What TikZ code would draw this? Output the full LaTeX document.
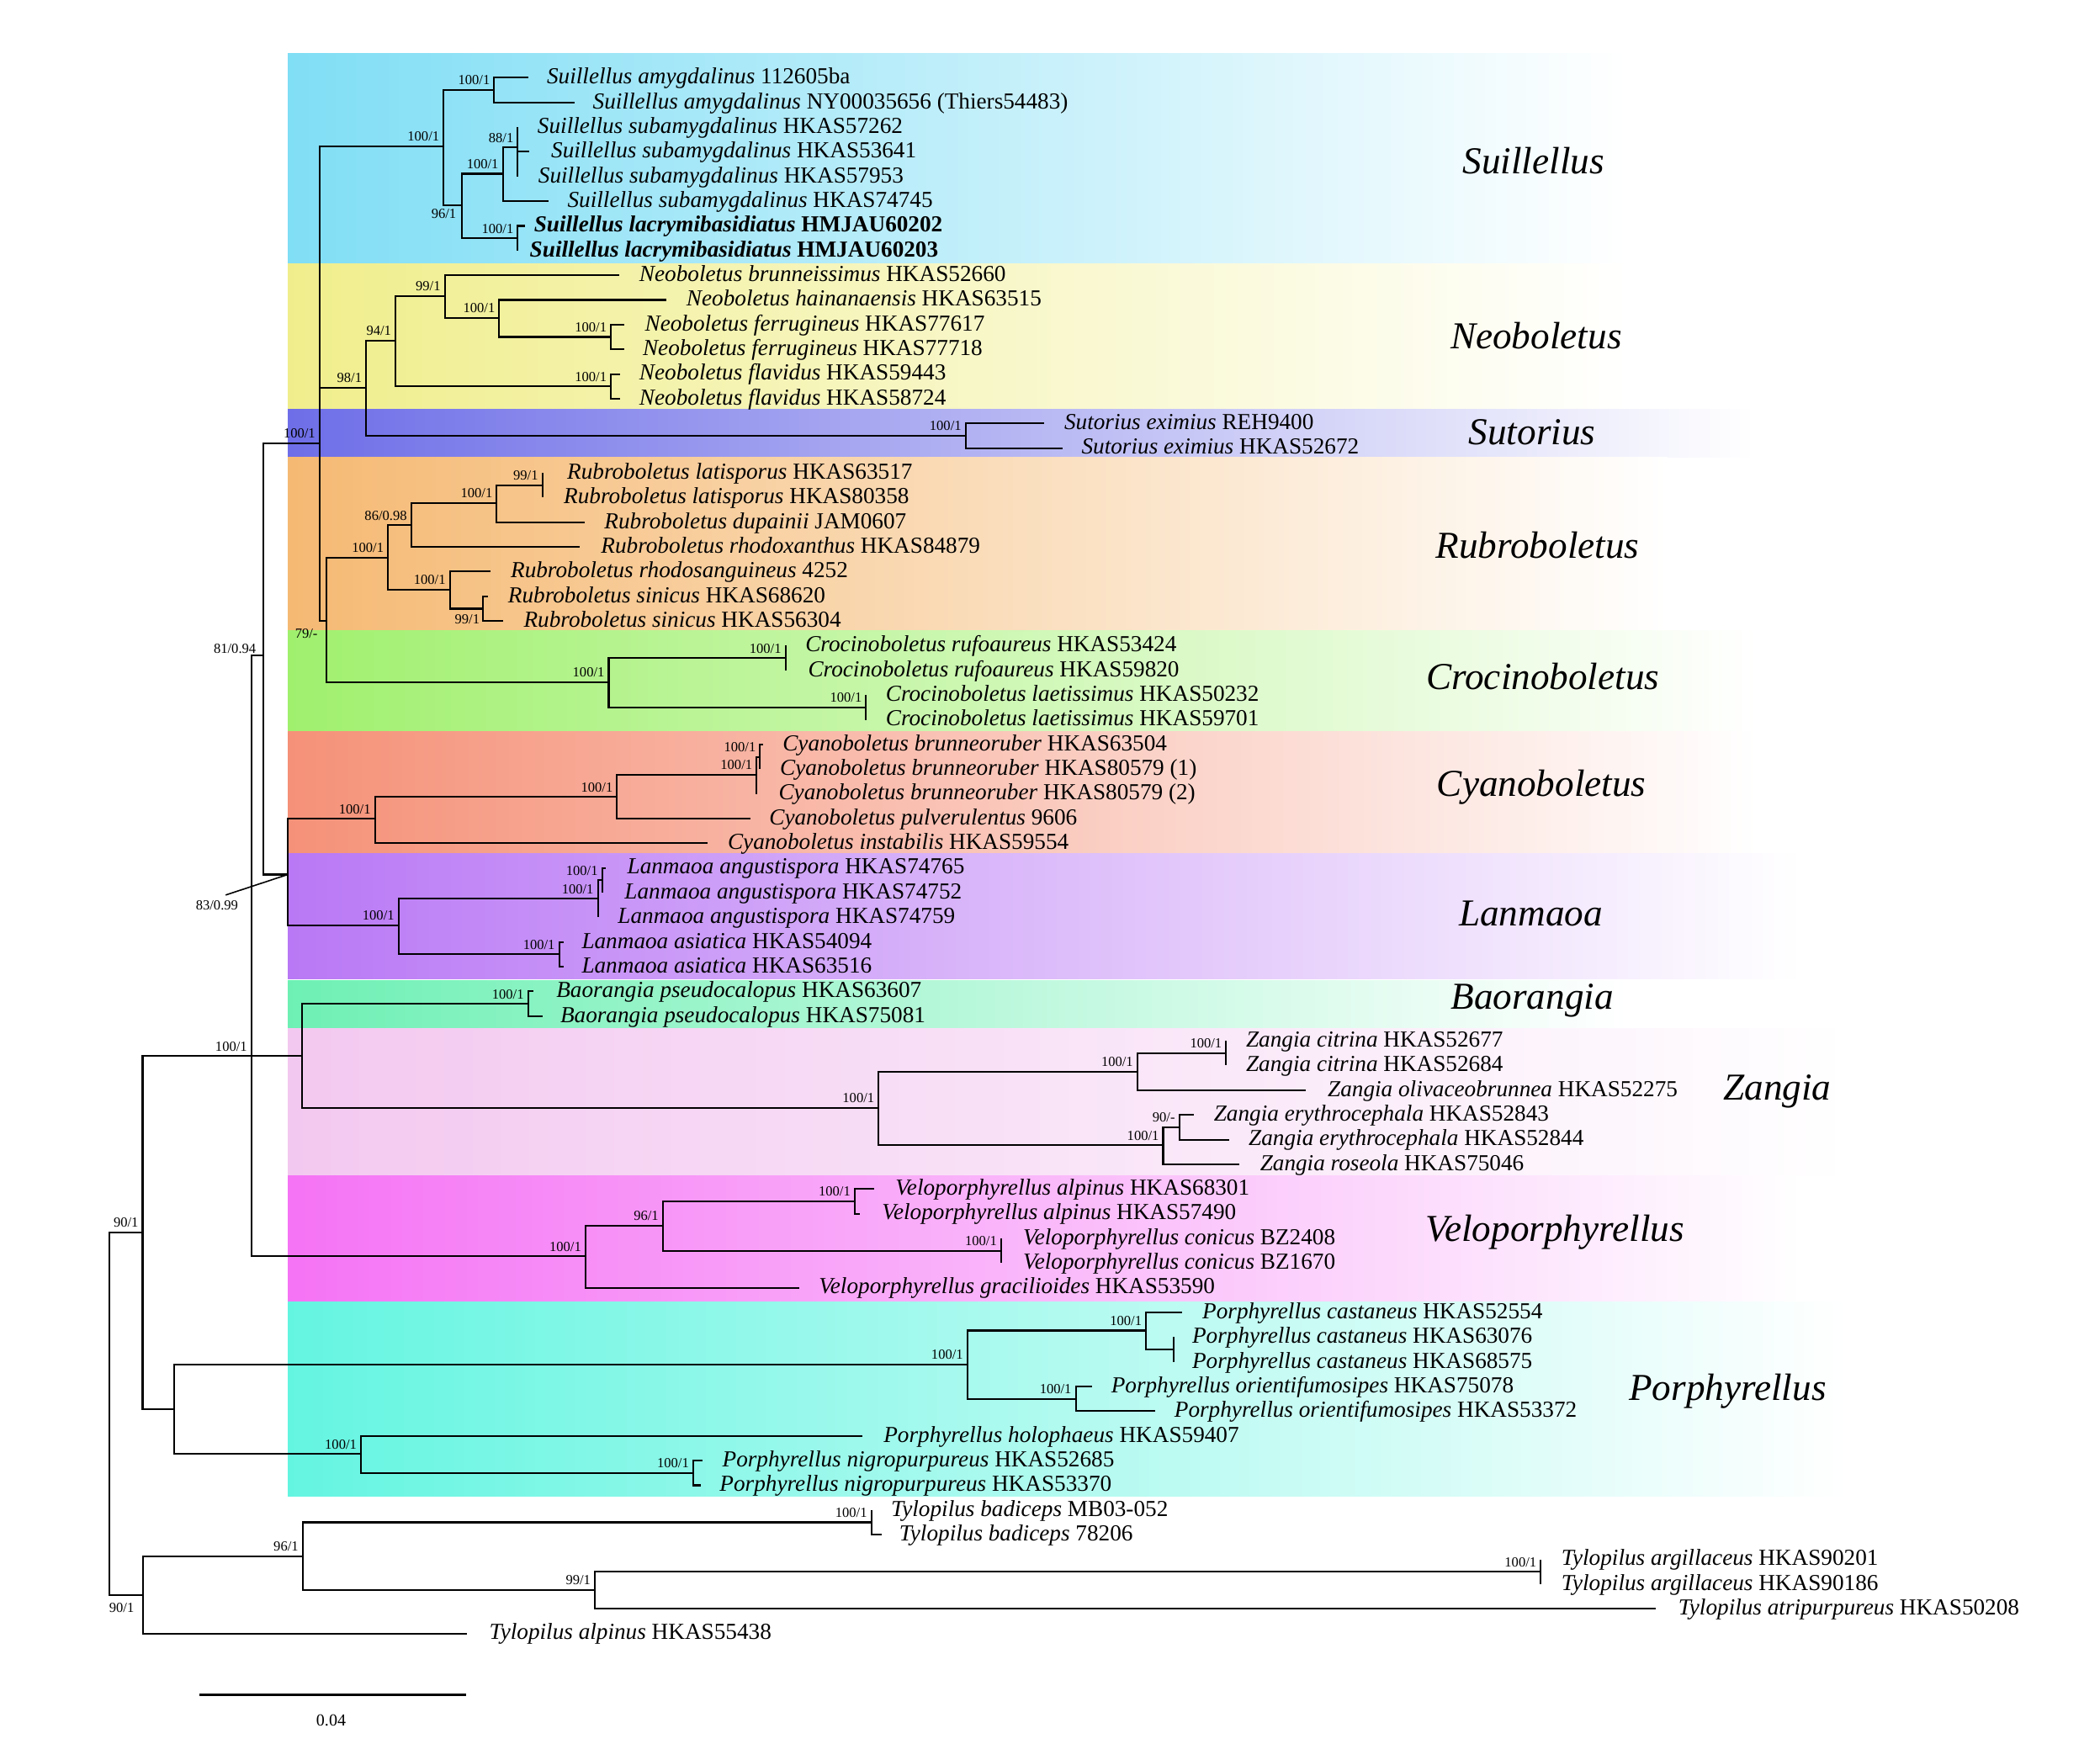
\documentclass[tikz,border=0pt]{standalone}
\usepackage{fontspec}
\setmainfont{Liberation Serif}
\definecolor{cSuil}{RGB}{128,222,245}
\definecolor{cNeo}{RGB}{240,238,140}
\definecolor{cSut}{RGB}{110,110,232}
\definecolor{cRub}{RGB}{245,185,115}
\definecolor{cCro}{RGB}{160,240,110}
\definecolor{cCya}{RGB}{245,145,120}
\definecolor{cLan}{RGB}{185,120,245}
\definecolor{cBao}{RGB}{110,240,180}
\definecolor{cZan}{RGB}{243,200,240}
\definecolor{cVel}{RGB}{245,115,245}
\definecolor{cPor}{RGB}{100,245,225}
\newcommand{\mytaxon}[5]{%
  \pgfmathsetmacro{\ry}{58+(#1-1)*18.44}%
  \coordinate (t#1) at (#3,\ry);%
  \node[tax] (L#1) at (#2,\ry) {\textit{#4} #5};%
}
\newcommand{\bsv}[2]{\node[bsl] (b-#1) at (#1) {#2};}
\begin{document}
\begin{tikzpicture}[x=0.5pt,y=-0.5pt,
  tax/.style={anchor=mid west,inner sep=0pt,font=\fontsize{8.55}{10}\selectfont},
  bsl/.style={anchor=base east,inner sep=0pt,xshift=-1.4pt,yshift=1.9pt,font=\fontsize{5.2}{6}\selectfont},
  bsx/.style={inner sep=0pt,font=\fontsize{5.2}{6}\selectfont},
  clade/.style={inner sep=0pt,font=\fontsize{14.2}{16}\selectfont\itshape},
  br/.style={line width=0.65pt}]
\useasboundingbox (0,0) rectangle (1568,1314);
% clade bands
\shade[left color=cSuil,right color=white] (215,40) rectangle (1215,197.2);
\shade[left color=cNeo,right color=white] (215,197.2) rectangle (1215,305.7);
\shade[left color=cSut,right color=white] (215,305.7) rectangle (1310,341.3);
\shade[left color=cRub,right color=white] (215,341.3) rectangle (1245,470.7);
\shade[left color=cCro,right color=white] (215,470.7) rectangle (1312,546.5);
\shade[left color=cCya,right color=white] (215,546.5) rectangle (1312,637.6);
\shade[left color=cLan,right color=white] (215,637.6) rectangle (1345,731);
\shade[left color=cBao,right color=white] (215,732) rectangle (1215,768.2);
\shade[left color=cZan,right color=white] (215,768.2) rectangle (1380,878);
\shade[left color=cVel,right color=white] (215,878) rectangle (1345,972);
\shade[left color=cPor,right color=white] (215,972) rectangle (1380,1117);
% taxa
\mytaxon{1}{408}{394.5}{Suillellus amygdalinus}{112605ba}
\mytaxon{2}{442.3}{428.9}{Suillellus amygdalinus}{NY00035656 (Thiers54483)}
\mytaxon{3}{401}{386.6}{Suillellus subamygdalinus}{HKAS57262}
\mytaxon{4}{411.2}{395}{Suillellus subamygdalinus}{HKAS53641}
\mytaxon{5}{401.6}{386.6}{Suillellus subamygdalinus}{HKAS57953}
\mytaxon{6}{423.4}{409.6}{Suillellus subamygdalinus}{HKAS74745}
\mytaxon{7}{398.4}{392}{\bfseries Suillellus lacrymibasidiatus}{\textbf{HMJAU60202}}
\mytaxon{8}{395.2}{386.6}{\bfseries Suillellus lacrymibasidiatus}{\textbf{HMJAU60203}}
\mytaxon{9}{477}{462.6}{Neoboletus brunneissimus}{HKAS52660}
\mytaxon{10}{512.2}{497.8}{Neoboletus hainanaensis}{HKAS63515}
\mytaxon{11}{481.2}{466.4}{Neoboletus ferrugineus}{HKAS77617}
\mytaxon{12}{479.6}{466.4}{Neoboletus ferrugineus}{HKAS77718}
\mytaxon{13}{477}{463.2}{Neoboletus flavidus}{HKAS59443}
\mytaxon{14}{477}{463.2}{Neoboletus flavidus}{HKAS58724}
\mytaxon{15}{794.3}{779.9}{Sutorius eximius}{REH9400}
\mytaxon{16}{807.2}{793.1}{Sutorius eximius}{HKAS52672}
\mytaxon{17}{423.1}{405}{Rubroboletus latisporus}{HKAS63517}
\mytaxon{18}{420.6}{405}{Rubroboletus latisporus}{HKAS80358}
\mytaxon{19}{450.9}{436.5}{Rubroboletus dupainii}{JAM0607}
\mytaxon{20}{448.4}{432.9}{Rubroboletus rhodoxanthus}{HKAS84879}
\mytaxon{21}{381}{366.5}{Rubroboletus rhodosanguineus}{4252}
\mytaxon{22}{379}{364.3}{Rubroboletus sinicus}{HKAS68620}
\mytaxon{23}{390.7}{375.6}{Rubroboletus sinicus}{HKAS56304}
\mytaxon{24}{601}{586.5}{Crocinoboletus rufoaureus}{HKAS53424}
\mytaxon{25}{603}{586.5}{Crocinoboletus rufoaureus}{HKAS59820}
\mytaxon{26}{661}{646.7}{Crocinoboletus laetissimus}{HKAS50232}
\mytaxon{27}{661}{646.7}{Crocinoboletus laetissimus}{HKAS59701}
\mytaxon{28}{584}{569.5}{Cyanoboletus brunneoruber}{HKAS63504}
\mytaxon{29}{582}{567.5}{Cyanoboletus brunneoruber}{HKAS80579 (1)}
\mytaxon{30}{581}{564.9}{Cyanoboletus brunneoruber}{HKAS80579 (2)}
\mytaxon{31}{574}{560.1}{Cyanoboletus pulverulentus}{9606}
\mytaxon{32}{543}{528}{Cyanoboletus instabilis}{HKAS59554}
\mytaxon{33}{468}{452.5}{Lanmaoa angustispora}{HKAS74765}
\mytaxon{34}{466}{449.6}{Lanmaoa angustispora}{HKAS74752}
\mytaxon{35}{461}{446.4}{Lanmaoa angustispora}{HKAS74759}
\mytaxon{36}{434}{421}{Lanmaoa asiatica}{HKAS54094}
\mytaxon{37}{434}{421}{Lanmaoa asiatica}{HKAS63516}
\mytaxon{38}{415}{398.5}{Baorangia pseudocalopus}{HKAS63607}
\mytaxon{39}{418}{404.9}{Baorangia pseudocalopus}{HKAS75081}
\mytaxon{40}{930}{915.5}{Zangia citrina}{HKAS52677}
\mytaxon{41}{930}{915.5}{Zangia citrina}{HKAS52684}
\mytaxon{42}{991}{975.1}{Zangia olivaceobrunnea}{HKAS52275}
\mytaxon{43}{906}{891.5}{Zangia erythrocephala}{HKAS52843}
\mytaxon{44}{932}{918}{Zangia erythrocephala}{HKAS52844}
\mytaxon{45}{940.5}{925.1}{Zangia roseola}{HKAS75046}
\mytaxon{46}{668.2}{653}{Veloporphyrellus alpinus}{HKAS68301}
\mytaxon{47}{658.2}{642}{Veloporphyrellus alpinus}{HKAS57490}
\mytaxon{48}{763.6}{747.5}{Veloporphyrellus conicus}{BZ2408}
\mytaxon{49}{763.6}{747.5}{Veloporphyrellus conicus}{BZ1670}
\mytaxon{50}{611}{597}{Veloporphyrellus gracilioides}{HKAS53590}
\mytaxon{51}{897.4}{882.9}{Porphyrellus castaneus}{HKAS52554}
\mytaxon{52}{889.8}{876.5}{Porphyrellus castaneus}{HKAS63076}
\mytaxon{53}{889.8}{876.5}{Porphyrellus castaneus}{HKAS68575}
\mytaxon{54}{829.3}{815.2}{Porphyrellus orientifumosipes}{HKAS75078}
\mytaxon{55}{876.5}{862.5}{Porphyrellus orientifumosipes}{HKAS53372}
\mytaxon{56}{659.4}{644.2}{Porphyrellus holophaeus}{HKAS59407}
\mytaxon{57}{539}{524.8}{Porphyrellus nigropurpureus}{HKAS52685}
\mytaxon{58}{537}{523}{Porphyrellus nigropurpureus}{HKAS53370}
\mytaxon{59}{665}{650.6}{Tylopilus badiceps}{MB03-052}
\mytaxon{60}{671}{658.5}{Tylopilus badiceps}{78206}
\mytaxon{61}{1165.5}{1150.4}{Tylopilus argillaceus}{HKAS90201}
\mytaxon{62}{1165.5}{1150.4}{Tylopilus argillaceus}{HKAS90186}
\mytaxon{63}{1252.7}{1236.6}{Tylopilus atripurpureus}{HKAS50208}
\mytaxon{64}{365}{348.9}{Tylopilus alpinus}{HKAS55438}
% internal nodes
\coordinate (root) at (81.7,1055);
\coordinate (A) at (106.5,920.2);
\coordinate (OG) at (107,1191);
\coordinate (B) at (187.7,788.5);
\coordinate (P) at (130,1052.1);
\coordinate (C) at (196.7,489.6);
\coordinate (BZ) at (225.4,788.5);
\coordinate (V) at (437.2,938);
\coordinate (E) at (238.6,331);
\coordinate (D) at (214.9,653);
\coordinate (S) at (331.2,109.3);
\coordinate (Samy) at (369,67.2);
\coordinate (S96) at (344.6,153);
\coordinate (S100) at (375.4,129.7);
\coordinate (S88) at (386.6,110);
\coordinate (Slac) at (386.6,177.9);
\coordinate (N98) at (273.4,289.6);
\coordinate (N94) at (295.3,254.4);
\coordinate (N99) at (332.1,221);
\coordinate (N100) at (372.8,237.2);
\coordinate (Nfer) at (456.2,251.6);
\coordinate (Nfla) at (456.2,288.5);
\coordinate (Sut) at (721,325.4);
\coordinate (R79) at (243.6,463.4);
\coordinate (R100) at (289.7,416.3);
\coordinate (R86) at (307,392.2);
\coordinate (Rl100) at (370.9,375.4);
\coordinate (R99) at (405,362.3);
\coordinate (R100b) at (335.9,440.3);
\coordinate (Rsin) at (360.8,454.5);
\coordinate (Cr) at (454.5,509.4);
\coordinate (Cru) at (586.5,491.3);
\coordinate (Cla) at (646.7,528.2);
\coordinate (Cy) at (280,611.4);
\coordinate (Cy2) at (460.7,595);
\coordinate (Cb) at (564.9,578.5);
\coordinate (Cbi) at (567.5,565.1);
\coordinate (L) at (297.6,691);
\coordinate (La) at (446.4,671);
\coordinate (Lai) at (449.6,657.3);
\coordinate (Las) at (417.5,712.6);
\coordinate (Ba) at (394.3,749.5);
\coordinate (Z) at (656,827.3);
\coordinate (Z1) at (849.2,800.1);
\coordinate (Zc) at (915.5,786.4);
\coordinate (Z2) at (868.5,855.1);
\coordinate (Z90) at (880.5,841.7);
\coordinate (V96) at (494.9,915);
\coordinate (Va) at (638.2,897);
\coordinate (Vc) at (747.5,933.9);
\coordinate (P1) at (722.3,1018.7);
\coordinate (Pc) at (855.7,993.5);
\coordinate (Pci) at (876.5,1007.7);
\coordinate (Po) at (803.2,1044.5);
\coordinate (P2) at (269.5,1085.6);
\coordinate (Pn) at (517.6,1099.9);
\coordinate (T96) at (226,1162.1);
\coordinate (Tb) at (650.6,1136.7);
\coordinate (T99) at (444.2,1187.2);
\coordinate (Ta) at (1150.4,1173.6);
% branches
\draw[br] (root) |- (A); \draw[br] (root) |- (OG);
\draw[br] (A) |- (B); \draw[br] (A) |- (P);
\draw[br] (B) |- (C); \draw[br] (B) |- (BZ); \draw[br] (B) |- (V);
\draw[br] (C) |- (E); \draw[br] (C) |- (D);
\draw[br] (E) |- (S); \draw[br] (E) |- (N98); \draw[br] (E) |- (R79);
\draw[br] (S) |- (Samy); \draw[br] (S) |- (S96);
\draw[br] (Samy) |- (t1); \draw[br] (Samy) |- (t2);
\draw[br] (S96) |- (S100); \draw[br] (S96) |- (Slac);
\draw[br] (S100) |- (S88); \draw[br] (S100) |- (t6);
\draw[br] (S88) |- (t3); \draw[br] (S88) |- (t4); \draw[br] (S88) |- (t5);
\draw[br] (Slac) |- (t7); \draw[br] (Slac) |- (t8);
\draw[br] (N98) |- (N94); \draw[br] (N98) |- (Sut);
\draw[br] (N94) |- (N99); \draw[br] (N94) |- (Nfla);
\draw[br] (N99) |- (t9); \draw[br] (N99) |- (N100);
\draw[br] (N100) |- (t10); \draw[br] (N100) |- (Nfer);
\draw[br] (Nfer) |- (t11); \draw[br] (Nfer) |- (t12);
\draw[br] (Nfla) |- (t13); \draw[br] (Nfla) |- (t14);
\draw[br] (Sut) |- (t15); \draw[br] (Sut) |- (t16);
\draw[br] (R79) |- (R100); \draw[br] (R79) |- (Cr);
\draw[br] (R100) |- (R86); \draw[br] (R100) |- (R100b);
\draw[br] (R86) |- (Rl100); \draw[br] (R86) |- (t20);
\draw[br] (Rl100) |- (R99); \draw[br] (Rl100) |- (t19);
\draw[br] (R99) |- (t17); \draw[br] (R99) |- (t18);
\draw[br] (R100b) |- (t21); \draw[br] (R100b) |- (Rsin);
\draw[br] (Rsin) |- (t22); \draw[br] (Rsin) |- (t23);
\draw[br] (Cr) |- (Cru); \draw[br] (Cr) |- (Cla);
\draw[br] (Cru) |- (t24); \draw[br] (Cru) |- (t25);
\draw[br] (Cla) |- (t26); \draw[br] (Cla) |- (t27);
\draw[br] (D) |- (Cy); \draw[br] (D) |- (L);
\draw[br] (Cy) |- (Cy2); \draw[br] (Cy) |- (t32);
\draw[br] (Cy2) |- (Cb); \draw[br] (Cy2) |- (t31);
\draw[br] (Cb) |- (Cbi); \draw[br] (Cb) |- (t30);
\draw[br] (Cbi) |- (t28); \draw[br] (Cbi) |- (t29);
\draw[br] (L) |- (La); \draw[br] (L) |- (Las);
\draw[br] (La) |- (Lai); \draw[br] (La) |- (t35);
\draw[br] (Lai) |- (t33); \draw[br] (Lai) |- (t34);
\draw[br] (Las) |- (t36); \draw[br] (Las) |- (t37);
\draw[br] (BZ) |- (Ba); \draw[br] (BZ) |- (Z);
\draw[br] (Ba) |- (t38); \draw[br] (Ba) |- (t39);
\draw[br] (Z) |- (Z1); \draw[br] (Z) |- (Z2);
\draw[br] (Z1) |- (Zc); \draw[br] (Z1) |- (t42);
\draw[br] (Zc) |- (t40); \draw[br] (Zc) |- (t41);
\draw[br] (Z2) |- (Z90); \draw[br] (Z2) |- (t45);
\draw[br] (Z90) |- (t43); \draw[br] (Z90) |- (t44);
\draw[br] (V) |- (V96); \draw[br] (V) |- (t50);
\draw[br] (V96) |- (Va); \draw[br] (V96) |- (Vc);
\draw[br] (Va) |- (t46); \draw[br] (Va) |- (t47);
\draw[br] (Vc) |- (t48); \draw[br] (Vc) |- (t49);
\draw[br] (P) |- (P1); \draw[br] (P) |- (P2);
\draw[br] (P1) |- (Pc); \draw[br] (P1) |- (Po);
\draw[br] (Pc) |- (t51); \draw[br] (Pc) |- (Pci);
\draw[br] (Pci) |- (t52); \draw[br] (Pci) |- (t53);
\draw[br] (Po) |- (t54); \draw[br] (Po) |- (t55);
\draw[br] (P2) |- (t56); \draw[br] (P2) |- (Pn);
\draw[br] (Pn) |- (t57); \draw[br] (Pn) |- (t58);
\draw[br] (OG) |- (T96); \draw[br] (OG) |- (t64);
\draw[br] (T96) |- (Tb); \draw[br] (T96) |- (T99);
\draw[br] (Tb) |- (t59); \draw[br] (Tb) |- (t60);
\draw[br] (T99) |- (Ta); \draw[br] (T99) |- (t63);
\draw[br] (Ta) |- (t61); \draw[br] (Ta) |- (t62);
% support values
\bsv{S}{100/1} \bsv{Samy}{100/1} \bsv{S88}{88/1} \bsv{S100}{100/1} \bsv{Slac}{100/1}
\node[bsx,anchor=east] (b-S96) at (341,159.5) {96/1};
\bsv{N98}{98/1} \bsv{N94}{94/1} \bsv{N99}{99/1} \bsv{N100}{100/1} \bsv{Nfer}{100/1} \bsv{Nfla}{100/1}
\bsv{Sut}{100/1} \bsv{E}{100/1}
\bsv{R100}{100/1} \bsv{R86}{86/0.98} \bsv{Rl100}{100/1} \bsv{R99}{99/1} \bsv{R100b}{100/1}
\node[bsx,anchor=east] (b-Rsin) at (358.5,462.3) {99/1};
\node[bsx,anchor=east] (b-R79) at (237.5,472.8) {79/-};
\bsv{Cr}{100/1} \bsv{Cru}{100/1} \bsv{Cla}{100/1}
\bsv{Cy}{100/1} \bsv{Cy2}{100/1} \bsv{Cb}{100/1} \bsv{Cbi}{100/1}
\bsv{L}{100/1} \bsv{La}{100/1} \bsv{Lai}{100/1} \bsv{Las}{100/1}
\node[bsx] (b-D) at (162,676.3) {83/0.99};
\coordinate (dl) at (168.5,668.3);
\draw[line width=0.5pt] (dl) -- (D);
\node[bsx,anchor=base east] (b-C) at (191.5,488) {81/0.94};
\bsv{B}{100/1} \bsv{A}{90/1}
\node[bsx,anchor=east] (b-OG) at (100.5,1200.8) {90/1};
\bsv{Ba}{100/1} \bsv{Z}{100/1} \bsv{Z1}{100/1} \bsv{Zc}{100/1} \bsv{Z2}{100/1} \bsv{Z90}{90/-}
\bsv{V}{100/1} \bsv{V96}{96/1} \bsv{Va}{100/1} \bsv{Vc}{100/1}
\bsv{P1}{100/1} \bsv{Pc}{100/1} \bsv{Po}{100/1} \bsv{P2}{100/1} \bsv{Pn}{100/1}
\bsv{T96}{96/1} \bsv{Tb}{100/1} \bsv{T99}{99/1} \bsv{Ta}{100/1}
% clade names
\node[clade] (kSuil) at (1145,120) {Suillellus};
\node[clade] (kNeo) at (1147,251) {Neoboletus};
\node[clade] (kSut) at (1144,323) {Sutorius};
\node[clade] (kRub) at (1148,407) {Rubroboletus};
\node[clade] (kCro) at (1152,505) {Crocinoboletus};
\node[clade] (kCya) at (1151,588) {Cyanoboletus};
\node[clade] (kLan) at (1143,682) {Lanmaoa};
\node[clade] (kBao) at (1144,747) {Baorangia};
\node[clade] (kZan) at (1327,815) {Zangia};
\node[clade] (kVel) at (1161,920) {Veloporphyrellus};
\node[clade] (kPor) at (1290,1039) {Porphyrellus};
% scale bar
\coordinate (sb1) at (148.6,1265.7);
\coordinate (sb2) at (348.1,1265.7);
\draw[line width=0.9pt] (sb1) -- (sb2);
\node[inner sep=0pt,font=\fontsize{6.3}{7}\selectfont] (sbl) at (247.2,1284.5) {0.04};
\end{tikzpicture}
\end{document}
